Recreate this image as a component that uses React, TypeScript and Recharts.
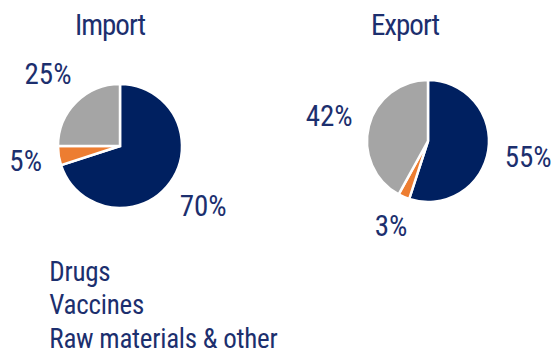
import { Cell, Legend, Pie, PieChart } from "recharts";

const categories = ["Drugs", "Vaccines", "Raw materials & other"];
const importShares = [70, 5, 25];
const exportShares = [55, 3, 42];
const sliceColors = ["#002060", "#ED7D31", "#A5A5A5"];

const FONT =
  "'Liberation Sans Narrow', 'Roboto Condensed', 'DejaVu Sans Condensed', sans-serif";
const TEXT = "#1c2f6e";
const RADIAN = Math.PI / 180;

const importData = categories.map((name, i) => ({ name, value: importShares[i] }));
const exportData = categories.map((name, i) => ({ name, value: exportShares[i] }));

// percentage label: its box is kept ~15px clear of the slice edge
function renderShare(props: any) {
  const { cx, cy, midAngle, outerRadius, value } = props;
  const txt = `${value}%`;
  const w = (txt.length - 1) * 14 + 20;
  const h = 22;
  const cos = Math.cos(-midAngle * RADIAN);
  const sin = Math.sin(-midAngle * RADIAN);
  const r = outerRadius + 15 + Math.abs(cos) * (w / 2) + Math.abs(sin) * (h / 2);
  return (
    <text
      x={cx + r * cos}
      y={cy + r * sin}
      textAnchor="middle"
      dominantBaseline="central"
      fill={TEXT}
      fontFamily={FONT}
      fontSize={29}
    >
      {txt}
    </text>
  );
}

function LegendRows() {
  return (
    <div
      style={{
        fontFamily: FONT,
        fontSize: 27,
        lineHeight: "24px",
        color: TEXT,
        letterSpacing: -0.25,
      }}
    >
      {categories.map((name, i) => (
        <div
          key={name}
          style={{ display: "flex", alignItems: "center", height: 33.5 }}
        >
          <span
            style={{
              width: 9,
              height: 9,
              background: sliceColors[i],
              marginRight: 49,
              flex: "none",
            }}
          />
          <span style={{ whiteSpace: "nowrap" }}>{name}</span>
        </div>
      ))}
    </div>
  );
}

export default function App() {
  return (
    <div
      style={{
        position: "absolute",
        left: 0,
        top: 0,
        width: 553,
        height: 352,
        background: "#fff",
        overflow: "hidden",
      }}
    >
      <svg
        width={553}
        height={352}
        style={{ position: "absolute", left: 0, top: 0 }}
      >
        <text
          x={110}
          y={35}
          textAnchor="middle"
          fill={TEXT}
          fontFamily={FONT}
          fontSize={29}
          letterSpacing={-1}
        >
          Import
        </text>
        <text
          x={405}
          y={35}
          textAnchor="middle"
          fill={TEXT}
          fontFamily={FONT}
          fontSize={29}
          letterSpacing={-1}
        >
          Export
        </text>
      </svg>
      <PieChart
        width={553}
        height={352}
        margin={{ top: 0, right: 0, bottom: 0, left: 0 }}
        style={{ position: "absolute", left: 0, top: 0 }}
      >
        <Pie
          data={importData}
          dataKey="value"
          cx={120}
          cy={146}
          outerRadius={62}
          startAngle={90}
          endAngle={-270}
          stroke="#fff"
          strokeWidth={2.5}
          label={renderShare}
          labelLine={false}
          isAnimationActive={false}
        >
          {importData.map((d, i) => (
            <Cell key={d.name} fill={sliceColors[i]} />
          ))}
        </Pie>
        <Pie
          data={exportData}
          dataKey="value"
          cx={428}
          cy={141}
          outerRadius={61}
          startAngle={90}
          endAngle={-270}
          stroke="#fff"
          strokeWidth={2.5}
          label={renderShare}
          labelLine={false}
          isAnimationActive={false}
        >
          {exportData.map((d, i) => (
            <Cell key={d.name} fill={sliceColors[i]} />
          ))}
        </Pie>
        <Legend
          content={() => <LegendRows />}
          wrapperStyle={{ left: -8.7, top: 255, width: 330, bottom: "auto" }}
        />
      </PieChart>
    </div>
  );
}
